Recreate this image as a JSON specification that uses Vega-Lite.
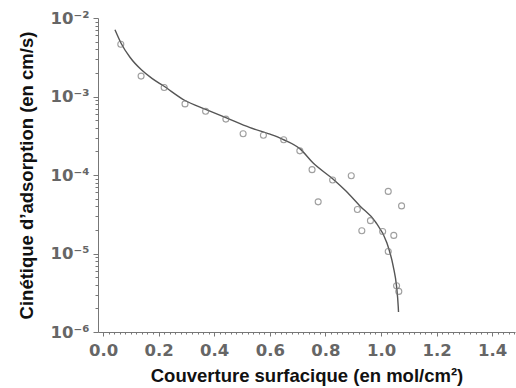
{
  "$schema": "https://vega.github.io/schema/vega-lite/v6.json",
  "width": 417,
  "height": 314,
  "autosize": {"type": "none"},
  "padding": {"left": 98, "top": 18, "right": 1, "bottom": 56},
  "background": "white",
  "config": {
    "view": {"stroke": null},
    "axis": {"grid": false, "domainColor": "#777", "tickColor": "#777", "labelColor": "#666", "labelFont": "DejaVu Sans", "labelFontWeight": "bold", "labelFontSize": 16.5, "labelOverlap": false, "titleFont": "Liberation Sans", "titleFontSize": 18.5, "titleFontWeight": "bold", "titleColor": "#111"}
  },
  "datasets": {
    "curve": [
      {"x": 0.043, "y": 0.00708}, {"x": 0.065, "y": 0.00477}, {"x": 0.097, "y": 0.00316},
      {"x": 0.139, "y": 0.00217}, {"x": 0.176, "y": 0.0017}, {"x": 0.217, "y": 0.00137},
      {"x": 0.295, "y": 0.000889}, {"x": 0.367, "y": 0.000692}, {"x": 0.442, "y": 0.000538},
      {"x": 0.529, "y": 0.000401}, {"x": 0.601, "y": 0.000331}, {"x": 0.647, "y": 0.000285},
      {"x": 0.709, "y": 0.000215}, {"x": 0.755, "y": 0.000143}, {"x": 0.827, "y": 0.0000889},
      {"x": 0.874, "y": 0.0000624}, {"x": 0.924, "y": 0.0000404}, {"x": 0.978, "y": 0.0000259},
      {"x": 1.021, "y": 0.0000137}, {"x": 1.044, "y": 0.00000687}, {"x": 1.056, "y": 0.00000381},
      {"x": 1.062, "y": 0.00000211}, {"x": 1.063, "y": 0.0000018}
    ],
    "points": [
      {"x": 0.064, "y": 0.00464}, {"x": 0.137, "y": 0.00182}, {"x": 0.22, "y": 0.0013},
      {"x": 0.295, "y": 0.000805}, {"x": 0.369, "y": 0.000648}, {"x": 0.442, "y": 0.000515},
      {"x": 0.504, "y": 0.000336}, {"x": 0.577, "y": 0.000321}, {"x": 0.65, "y": 0.000281},
      {"x": 0.708, "y": 0.000203}, {"x": 0.752, "y": 0.000117}, {"x": 0.774, "y": 0.0000455},
      {"x": 0.826, "y": 0.0000863}, {"x": 0.893, "y": 0.000098}, {"x": 0.915, "y": 0.0000363},
      {"x": 0.931, "y": 0.0000195}, {"x": 0.962, "y": 0.0000262}, {"x": 1.006, "y": 0.0000191},
      {"x": 1.026, "y": 0.0000618}, {"x": 1.026, "y": 0.0000106}, {"x": 1.046, "y": 0.000017},
      {"x": 1.074, "y": 0.0000404}, {"x": 1.056, "y": 0.00000389}, {"x": 1.064, "y": 0.00000329}
    ]
  },
  "layer": [
    {
      "data": {"name": "curve"},
      "mark": {"type": "line", "color": "#555", "strokeWidth": 1.4, "interpolate": "monotone", "clip": true},
      "encoding": {
        "x": {"field": "x", "type": "quantitative", "scale": {"domain": [-0.018, 1.482], "nice": false, "zero": false},
          "axis": {"orient": "bottom", "labelOverlap": false, "labelFlush": false, "labelBound": false, "tickCount": 1000,
            "values": [0,0.02,0.04,0.06,0.08,0.1,0.12,0.14,0.16,0.18,0.2,0.22,0.24,0.26,0.28,0.3,0.32,0.34,0.36,0.38,0.4,0.42,0.44,0.46,0.48,0.5,0.52,0.54,0.56,0.58,0.6,0.62,0.64,0.66,0.68,0.7,0.72,0.74,0.76,0.78,0.8,0.82,0.84,0.86,0.88,0.9,0.92,0.94,0.96,0.98,1.0,1.02,1.04,1.06,1.08,1.1,1.12,1.14,1.16,1.18,1.2,1.22,1.24,1.26,1.28,1.3,1.32,1.34,1.36,1.38,1.4,1.42,1.44,1.46,1.48],
            "labelExpr": "abs(datum.value*5 - round(datum.value*5)) < 0.01 ? format(datum.value, '.1f') : ''",
            "tickSize": {"condition": {"test": "abs(datum.value*5 - round(datum.value*5)) < 0.01", "value": 4}, "value": 2},
            "labelPadding": 6, "title": "Couverture surfacique (en mol/cm²)", "titlePadding": 8}},
        "y": {"field": "y", "type": "quantitative", "scale": {"type": "log", "domain": [0.000001, 0.01], "nice": false},
          "axis": {"orient": "left", "labelOverlap": false, "tickCount": 1000,
            "values": [0.000001,0.000002,0.000003,0.000004,0.000005,0.000006,0.000007,0.000008,0.000009,0.00001,0.00002,0.00003,0.00004,0.00005,0.00006,0.00007,0.00008,0.00009,0.0001,0.0002,0.0003,0.0004,0.0005,0.0006,0.0007,0.0008,0.0009,0.001,0.002,0.003,0.004,0.005,0.006,0.007,0.008,0.009,0.01],
            "tickSize": {"condition": {"test": "abs(log(datum.value)/LN10 - round(log(datum.value)/LN10)) < 0.01", "value": 5}, "value": 3},
            "labelPadding": 4,
            "labelExpr": "abs(log(datum.value)/LN10 - round(log(datum.value)/LN10)) >= 0.01 ? '' : datum.value > 0.005 ? '10⁻²' : datum.value > 0.0005 ? '10⁻³' : datum.value > 0.00005 ? '10⁻⁴' : datum.value > 0.000005 ? '10⁻⁵' : '10⁻⁶'",
            "title": "Cinétique d’adsorption (en cm/s)", "titlePadding": 14}}
      }
    },
    {
      "data": {"name": "points"},
      "mark": {"type": "point", "shape": "circle", "filled": false, "color": "#777", "size": 36, "strokeWidth": 1.1, "clip": true},
      "encoding": {
        "x": {"field": "x", "type": "quantitative"},
        "y": {"field": "y", "type": "quantitative"}
      }
    }
  ]
}
